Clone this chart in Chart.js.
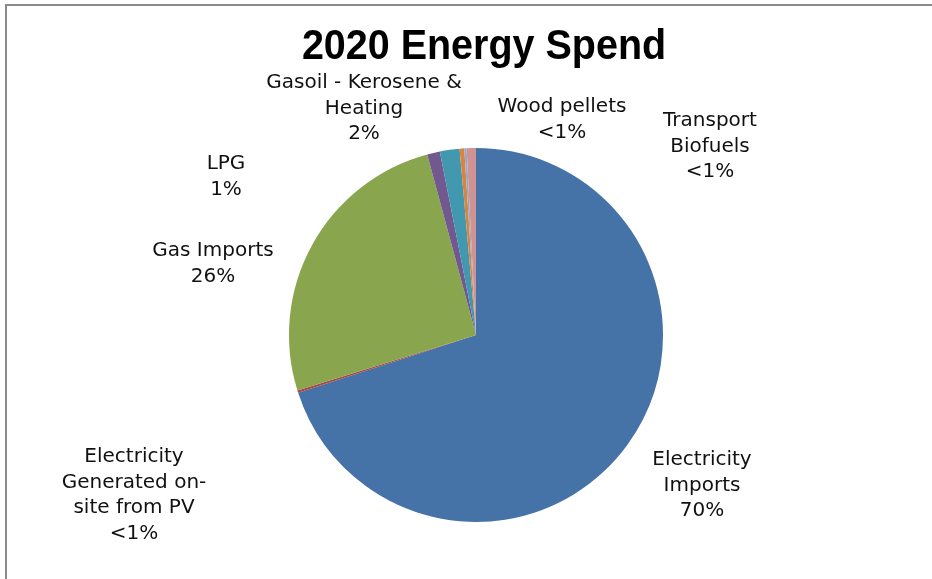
<!DOCTYPE html>
<html>
<head>
<meta charset="utf-8">
<title>2020 Energy Spend</title>
<script src="https://cdn.jsdelivr.net/npm/chart.js@4/dist/chart.umd.min.js"></script>
<style>
  html, body { margin: 0; padding: 0; background: #fff; }
  #wrap { position: relative; width: 932px; height: 579px; }
</style>
</head>
<body>
<div id="wrap"><canvas id="spendChart" width="932" height="579"></canvas></div>
<script>
// categories as they appear in the spend table (clockwise from 12 o'clock)
const categories = [
    "Electricity Imports",
    "Electricity Generated on-site from PV",
    "Gas Imports",
    "LPG",
    "Gasoil - Kerosene & Heating",
    "Wood pellets",
    "Transport Biofuels",
    "Other"
];
// share of total spend, %
const spend = [70.0, 0.2, 25.6, 1.1, 1.7, 0.4, 0.2, 0.8];
const sliceColors = ["#4572A7", "#AA4643", "#89A54E", "#71588F", "#4198AF", "#DB843D", "#93A9CF", "#D19392"];

// wrapped label text per category (null = no label)
const labelLines = [
    ["Electricity", "Imports"],
    ["Electricity", "Generated on-", "site from PV"],
    ["Gas Imports"],
    ["LPG"],
    ["Gasoil - Kerosene &", "Heating"],
    ["Wood pellets"],
    ["Transport", "Biofuels"],
    null
];
// where each label block sits (centre x, first line y)
const labelPos = [
    { x: 702, y: 460 },
    { x: 134, y: 457 },
    { x: 213, y: 251 },
    { x: 226, y: 164 },
    { x: 364, y: 83 },
    { x: 562, y: 107 },
    { x: 710, y: 121 },
    null
];

function pctText(v, total) {
    const p = v / total * 100;
    return p < 1 ? "<1%" : Math.round(p) + "%";
}

const frameAndLabels = {
    id: "frameAndLabels",
    beforeDraw(chart) {
        const ctx = chart.ctx;
        ctx.save();
        ctx.fillStyle = "#fff";
        ctx.fillRect(0, 0, chart.width, chart.height);
        ctx.strokeStyle = "#8a8a8a";
        ctx.lineWidth = 2;
        ctx.beginPath();
        ctx.moveTo(6, chart.height);
        ctx.lineTo(6, 5);
        ctx.lineTo(chart.width, 5);
        ctx.stroke();
        ctx.restore();
    },
    afterDraw(chart) {
        const ctx = chart.ctx;
        const data = chart.data.datasets[0].data;
        const total = data.reduce((a, b) => a + b, 0);
        ctx.save();
        // title, squeezed a little horizontally
        ctx.save();
        ctx.translate(484, 59);
        ctx.scale(0.94, 1);
        ctx.fillStyle = "#000";
        ctx.font = "bold 42px 'Liberation Sans', Arial, sans-serif";
        ctx.textAlign = "center";
        ctx.textBaseline = "alphabetic";
        ctx.fillText("2020 Energy Spend", 0, 0);
        ctx.restore();

        ctx.font = "20px 'DejaVu Sans', sans-serif";
        ctx.textAlign = "center";
        ctx.textBaseline = "middle";
        ctx.fillStyle = "#111";
        labelLines.forEach((lines, i) => {
            if (!lines) return;
            const pos = labelPos[i];
            const all = lines.concat([pctText(data[i], total)]);
            all.forEach((t, k) => ctx.fillText(t, pos.x, pos.y + k * 25.5));
        });
        ctx.restore();
    }
};

new Chart(document.getElementById("spendChart"), {
    type: "pie",
    data: {
        labels: categories,
        datasets: [{
            data: spend,
            backgroundColor: sliceColors,
            borderWidth: 0
        }]
    },
    options: {
        responsive: false,
        animation: false,
        layout: { padding: { top: 148, bottom: 57, left: 200, right: 180 } },
        plugins: {
            legend: { display: false },
            tooltip: { enabled: false }
        }
    },
    plugins: [frameAndLabels]
});
</script>
</body>
</html>
